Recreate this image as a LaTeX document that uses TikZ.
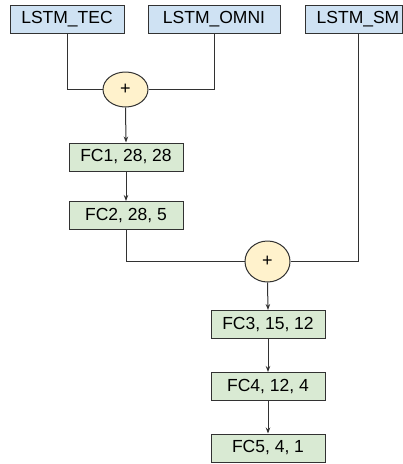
\documentclass[tikz,border=0pt]{standalone}
\usepackage{fontspec}
\setmainfont{Liberation Sans}
\usetikzlibrary{positioning, arrows.meta, shapes.geometric}
\definecolor{colLstm}{RGB}{207, 226, 243}
\definecolor{colFc}{RGB}{217, 234, 211}
\definecolor{colSum}{RGB}{255, 242, 204}
\definecolor{colLine}{RGB}{50, 50, 50}

\begin{document}
\begin{tikzpicture}[
  x=1pt, y=1pt,
  >={Stealth[length=6pt, width=4.5pt]},
  lstm/.style={draw=colLine, line width=1pt, fill=colLstm, inner sep=0pt,
               minimum height=28pt, font=\fontsize{17.5}{20}\selectfont},
  fc/.style={draw=colLine, line width=1pt, fill=colFc, inner sep=0pt,
             minimum width=114pt, minimum height=28pt,
             font=\fontsize{17.5}{20}\selectfont},
  sum/.style={ellipse, draw=colLine, line width=1pt, fill=colSum,
              inner sep=0pt, minimum width=45pt,
              font=\fontsize{18}{20}\selectfont},
  link/.style={colLine, line width=1pt}
]
\useasboundingbox (0,0) rectangle (403,-464);

% ---------- entrees LSTM ----------
\node[lstm, minimum width=114pt] (tec)  at (67,-19)    {LSTM\_TEC};
\node[lstm, minimum width=132pt] (omni) at (214,-19)   {LSTM\_OMNI};
\node[lstm, minimum width=97pt]  (sm)   at (353.5,-19) {\hspace{9pt}LSTM\_SM};

% ---------- premiere somme + FC1, FC2 ----------
\node[sum, minimum height=35pt] (sum1) at (125.5,-89.5) {+};
\node[fc] (fc1) at (126,-157)   {FC1, 28, 28};
\node[fc] (fc2) at (126,-215.5) {FC2, 28, 5};

% ---------- deuxieme somme + FC3..FC5 ----------
\node[sum, minimum height=41pt] (sum2) at (267.5,-261.5) {+};
\node[fc] (fc3) at (268,-324.5) {FC3, 15, 12};
\node[fc] (fc4) at (268,-386.5) {FC4, 12, 4};
\node[fc] (fc5) at (268,-448)   {FC5, 4, 1};

% ---------- connexions ----------
\draw[link] (tec.south) |- (sum1.west);
\draw[link] (omni.south) |- (sum1.east);
\draw[link, ->] (sum1.south) -- (fc1.north);
\draw[link, ->] (fc1) -- (fc2);
\draw[link] (fc2.south) |- (sum2.west);
\draw[link] ([xshift=4.5pt]sm.south) |- (sum2.east);
\draw[link, ->] (sum2.south) -- (fc3.north);
\draw[link, ->] (fc3) -- (fc4);
\draw[link, ->] (fc4) -- (fc5);

\end{tikzpicture}
\end{document}
